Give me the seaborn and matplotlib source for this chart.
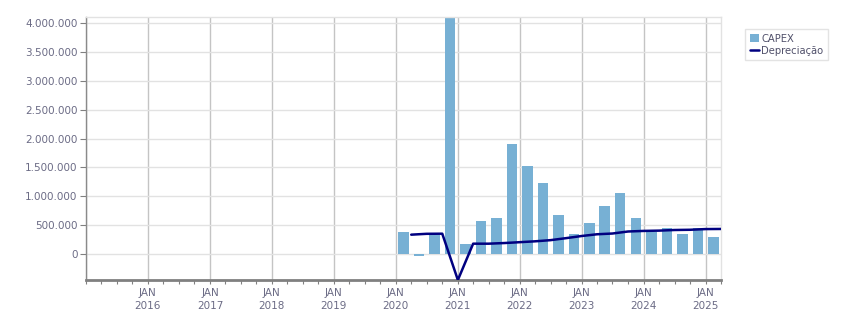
import numpy as np
import pandas as pd
import matplotlib
matplotlib.use("Agg")
import matplotlib.pyplot as plt
import matplotlib.dates as mdates
import matplotlib.ticker as mticker
from matplotlib.patches import Patch
from matplotlib.lines import Line2D
import seaborn as sns

# ---- data ----
capex_quarters = ["2020Q1", "2020Q2", "2020Q3", "2020Q4",
                  "2021Q1", "2021Q2", "2021Q3", "2021Q4",
                  "2022Q1", "2022Q2", "2022Q3", "2022Q4",
                  "2023Q1", "2023Q2", "2023Q3", "2023Q4",
                  "2024Q1", "2024Q2", "2024Q3", "2024Q4",
                  "2025Q1"]
capex_values = [383000, -35000, 337000, 4300000,
                174000, 575000, 627000, 1899000,
                1533000, 1237000, 679000, 348000,
                540000, 836000, 1063000, 627000,
                389000, 453000, 348000, 453000,
                296000]

dep_dates = ["2020-04-01", "2020-07-01", "2020-10-01", "2021-01-01",
             "2021-04-01", "2021-07-01", "2021-10-01", "2022-01-01",
             "2022-04-01", "2022-07-01", "2022-10-01", "2023-01-01",
             "2023-04-01", "2023-07-01", "2023-10-01", "2024-01-01",
             "2024-04-01", "2024-07-01", "2024-10-01", "2025-01-01",
             "2025-04-01"]
dep_values = [335000, 350000, 352000, -450000,
              179000, 179000, 190000, 205000,
              220000, 240000, 275000, 312000,
              342000, 355000, 390000, 400000,
              405000, 416000, 420000, 432000,
              434000]

# ---- prepare ----
per = pd.PeriodIndex(capex_quarters, freq="Q")
capex_mid = per.start_time + (per.end_time - per.start_time) / 2
capex_df = pd.DataFrame({"x": mdates.date2num(capex_mid.to_pydatetime()),
                         "CAPEX": capex_values})
dep_df = pd.DataFrame({"x": mdates.date2num(pd.to_datetime(dep_dates).to_pydatetime()),
                       "Depreciação": dep_values})

bar_color = "#77b0d4"
line_color = "#000080"
text_color = "#6b6b85"

sns.set_theme(style="white")
plt.rcParams["font.family"] = ["DejaVu Sans"]

fig = plt.figure(figsize=(8.51, 3.13), dpi=100)
ax = fig.add_axes([86 / 851, 1 - 280 / 313, (721 - 86) / 851, (280 - 17) / 313])

sns.barplot(data=capex_df, x="x", y="CAPEX", native_scale=True, width=0.68,
            color=bar_color, saturation=1, ax=ax, zorder=2, errorbar=None,
            linewidth=0, edgecolor="none")
sns.lineplot(data=dep_df, x="x", y="Depreciação", color=line_color,
             linewidth=1.8, ax=ax, zorder=3)

ax.set_xlim(mdates.date2num(pd.Timestamp("2015-01-01")),
            mdates.date2num(pd.Timestamp("2025-04-01")))
ax.set_ylim(-450000, 4105000)

ax.xaxis.set_major_locator(mdates.YearLocator())


def xfmt(v, p):
    d = mdates.num2date(v)
    if d.year <= 2015:
        return ""
    return "JAN\n" + d.strftime("%Y")


ax.xaxis.set_major_formatter(mticker.FuncFormatter(xfmt))
ax.xaxis.set_minor_locator(mdates.MonthLocator(bymonth=[4, 7, 10]))
ax.yaxis.set_major_locator(mticker.MultipleLocator(500000))
ax.yaxis.set_major_formatter(mticker.FuncFormatter(
    lambda v, p: f"{int(round(v)):,}".replace(",", ".")))

ax.set_xlabel("")
ax.set_ylabel("")

ax.grid(axis="y", color="#e2e2e2", linewidth=1, zorder=0)
ax.grid(axis="x", which="major", color="#c4c4c4", linewidth=1, zorder=0)
ax.set_axisbelow(True)

for side in ["top", "right"]:
    ax.spines[side].set_color("#e2e2e2")
    ax.spines[side].set_linewidth(1)
ax.spines["left"].set_color("#8a8a8a")
ax.spines["left"].set_linewidth(1)
ax.spines["bottom"].set_color("#808080")
ax.spines["bottom"].set_linewidth(2)

ax.tick_params(axis="y", which="major", length=4, width=0.8, color="#808080",
               labelsize=7.5, labelcolor=text_color, pad=2, left=True)
ax.tick_params(axis="x", which="both", length=3, width=0.8, color="#808080",
               labelsize=7.5, labelcolor=text_color, pad=3, bottom=True)
for lbl in ax.get_xticklabels():
    lbl.set_linespacing(1.3)

handles = [Patch(facecolor=bar_color, edgecolor="none"),
           Line2D([0], [0], color=line_color, linewidth=1.8)]
leg = fig.legend(handles, ["CAPEX", "Depreciação"], loc="upper left",
                 bbox_to_anchor=(745 / 851, 1 - 29 / 313),
                 bbox_transform=fig.transFigure, fontsize=7.2,
                 frameon=True, fancybox=False, handlelength=0.9,
                 handleheight=0.9, handletextpad=0.3, borderpad=0.45,
                 labelspacing=0.2, borderaxespad=0)
leg.get_frame().set_edgecolor("#dcdcdc")
leg.get_frame().set_linewidth(1)
for t in leg.get_texts():
    t.set_color("#50506a")

fig.savefig("out.png", dpi=100)
